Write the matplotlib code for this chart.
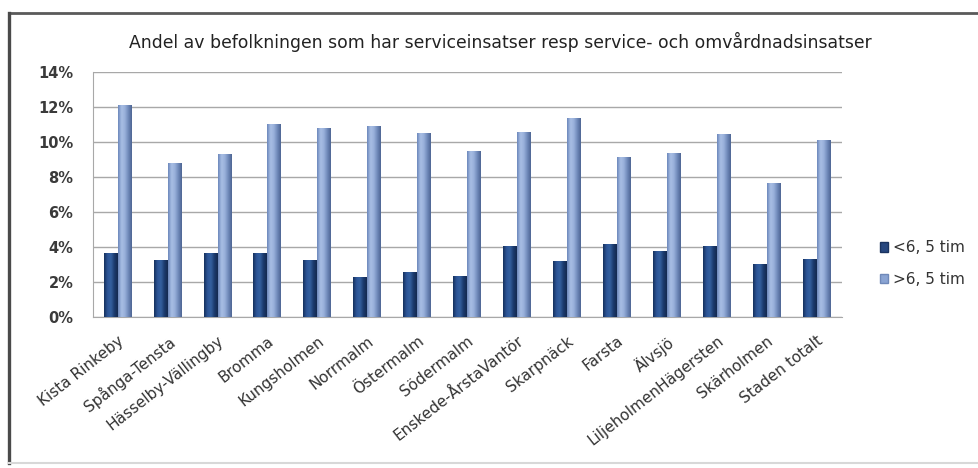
import numpy as np
import matplotlib
matplotlib.use("Agg")
import matplotlib.pyplot as plt
from matplotlib.colors import LinearSegmentedColormap
from matplotlib.patches import Patch
from matplotlib.lines import Line2D

categories = ["Kista Rinkeby", "Spånga-Tensta", "Hässelby-Vällingby", "Bromma",
              "Kungsholmen", "Norrmalm", "Östermalm", "Södermalm",
              "Enskede-ÅrstaVantör", "Skarpnäck", "Farsta", "Älvsjö",
              "LiljeholmenHägersten", "Skärholmen", "Staden totalt"]
under_65 = [3.66, 3.24, 3.62, 3.62, 3.24, 2.25, 2.57, 2.33, 4.04, 3.20, 4.15, 3.77, 4.06, 3.01, 3.28]
over_65 = [12.1, 8.8, 9.3, 11.0, 10.76, 10.9, 10.5, 9.49, 10.57, 11.34, 9.14, 9.34, 10.44, 7.62, 10.1]
series_names = ["<6, 5 tim", ">6, 5 tim"]
yticks = [0, 2, 4, 6, 8, 10, 12, 14]
title = "Andel av befolkningen som har serviceinsatser resp service- och omvårdnadsinsatser"

plt.rcParams["font.family"] = ["DejaVu Sans"]

W, H = 979, 468
fig = plt.figure(figsize=(W / 100, H / 100), dpi=100)
fig.patch.set_facecolor("white")

def fx(px):
    return px / W

def fy(py):
    return 1 - py / H

# outer chart frame: dark top/left, faint bottom
fig.add_artist(Line2D([fx(9), fx(W + 2)], [fy(13), fy(13)], transform=fig.transFigure,
                      color="#5a5a5a", linewidth=2.0))
fig.add_artist(Line2D([fx(9), fx(9)], [fy(13), fy(463)], transform=fig.transFigure,
                      color="#4a4a4a", linewidth=2.4))
fig.add_artist(Line2D([fx(9), fx(W + 2)], [fy(463), fy(463)], transform=fig.transFigure,
                      color="#d8d8d8", linewidth=1.5))

left, right, top, bottom = 92.7, 841.7, 71.7, 316.7
ax = fig.add_axes([fx(left), fy(bottom), (right - left) / W, (bottom - top) / H])

x = np.arange(len(categories))
bw = 0.28
dark_cmap = LinearSegmentedColormap.from_list("d", ["#15305c", "#2d5597", "#34609f", "#1b3a6d", "#13294f"])
light_cmap = LinearSegmentedColormap.from_list("l", ["#6a86ba", "#a9bfe5", "#98b0da", "#6f89b9", "#4e6593"])

b1 = ax.bar(x - bw / 2, under_65, bw, color="#27477f", zorder=3, linewidth=0)
b2 = ax.bar(x + bw / 2, over_65, bw, color="#8aa4d3", zorder=3, linewidth=0)

grad = np.linspace(0, 1, 64).reshape(1, -1)
for bars, cmap in ((b1, dark_cmap), (b2, light_cmap)):
    for p in bars:
        x0, y0 = p.get_x(), p.get_y()
        im = ax.imshow(grad, cmap=cmap, aspect="auto", zorder=4,
                       extent=(x0, x0 + p.get_width(), y0, y0 + p.get_height()),
                       interpolation="bicubic")
        im.set_clip_path(p)

ax.set_xlim(-0.5, len(categories) - 0.5)
ax.set_ylim(0, 14)
ax.set_yticks(yticks)
ax.set_yticklabels([f"{v}%" for v in yticks], fontsize=10.5, color="#3a3a3a", fontweight="bold")
ax.set_xticks(x)
ax.set_xticklabels(categories, rotation=38, ha="right", rotation_mode="anchor",
                   fontsize=11, color="#333333")
ax.tick_params(axis="both", length=0)
ax.tick_params(axis="y", pad=14)
ax.tick_params(axis="x", pad=12)
ax.grid(axis="y", color="#a8a8a8", linewidth=1.0, zorder=0)
ax.set_axisbelow(True)
for s in ("top", "right"):
    ax.spines[s].set_visible(False)
ax.spines["left"].set_color("#a8a8a8")
ax.spines["bottom"].set_color("#a8a8a8")

fig.text(fx(500.5), fy(42), title, ha="center", va="center", fontsize=12.4, color="#222222")

handles = [Patch(facecolor="#27477f", edgecolor="#1a3360"),
           Patch(facecolor="#8aa4d3", edgecolor="#6f89b9")]
fig.legend(handles, series_names, loc="center left", bbox_to_anchor=(fx(866), fy(263.5)),
           frameon=False, fontsize=11, handlelength=0.55, handleheight=0.55,
           handletextpad=0.3, labelspacing=1.05, labelcolor="#333333")

fig.savefig("out.png", dpi=100, facecolor="white")
